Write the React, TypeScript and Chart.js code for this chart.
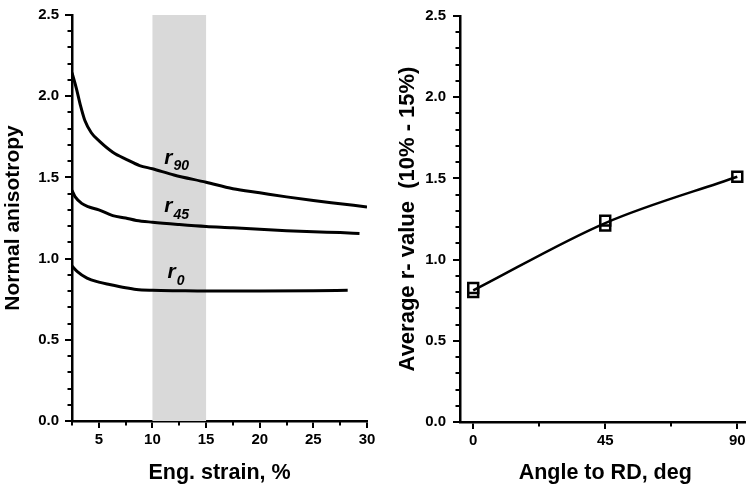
import React, { useEffect, useRef } from "react";
import { Chart, registerables } from "chart.js";

Chart.register(...registerables);

const FONT = '"Liberation Sans", Arial, Helvetica, sans-serif';

// ---- Left panel data: normal anisotropy vs engineering strain ----
const r90Strain = [2.5, 2.9, 3.3, 3.7, 4.3, 5.1, 6.3, 7.6, 8.8, 10, 12, 15, 17.5, 20, 22.5, 25, 27.5, 30];
const r90Values = [2.145, 2.05, 1.94, 1.85, 1.775, 1.72, 1.655, 1.61, 1.573, 1.553, 1.515, 1.47, 1.43, 1.405, 1.38, 1.358, 1.338, 1.318];

const r45Strain = [2.5, 2.8, 3.4, 4, 5, 6.3, 7.5, 8.5, 10, 12.5, 15, 17.5, 20, 22.5, 25, 27.5, 29.3];
const r45Values = [1.42, 1.38, 1.34, 1.32, 1.3, 1.265, 1.25, 1.235, 1.224, 1.21, 1.198, 1.19, 1.18, 1.172, 1.165, 1.16, 1.155];

const r0Strain = [2.5, 3, 3.9, 5, 6, 7.5, 8.5, 10, 12.5, 15, 20, 25, 28.2];
const r0Values = [0.955, 0.92, 0.88, 0.855, 0.84, 0.82, 0.81, 0.805, 0.802, 0.8, 0.8, 0.802, 0.805];

const bandStart = 10;
const bandEnd = 15;

const curveLabelMain = ["r", "r", "r"];
const curveLabelSub = ["90", "45", "0"];
const curveLabelStrain = [11.1, 11.1, 11.4];
const curveLabelValue = [1.585, 1.286, 0.878];

// ---- Right panel data: average r-value vs angle ----
const angles = [0, 45, 90];
const averageR = [0.81, 1.225, 1.51];
const measuredAngles = [0, 0, 45, 45, 90];
const measuredR = [0.8, 0.825, 1.21, 1.24, 1.51];

const yMinorTicks: number[] = [];
for (let i = 1; i < 25; i++) if (i % 5 !== 0) yMinorTicks.push(i / 10);
const leftXMinorTicks = [2.5, 7.5, 12.5, 17.5, 22.5, 27.5];
const rightXMinorTicks = [22.5, 67.5];

function toXY(xs: number[], ys: number[]) {
  return xs.map((x, i) => ({ x, y: ys[i] }));
}

function minorTicksPlugin(xMinor: number[], yMinor: number[]) {
  return {
    id: "minorTicks",
    afterDraw(chart: any) {
      const { ctx, chartArea } = chart;
      const xs = chart.scales.x;
      const ys = chart.scales.y;
      ctx.save();
      ctx.strokeStyle = "#000";
      ctx.lineWidth = 2;
      for (const v of yMinor) {
        const py = Math.round(ys.getPixelForValue(v));
        ctx.beginPath();
        ctx.moveTo(chartArea.left - 4.5, py);
        ctx.lineTo(chartArea.left, py);
        ctx.stroke();
      }
      for (const v of xMinor) {
        const px = Math.round(xs.getPixelForValue(v));
        if (px < chartArea.left || px > chartArea.right) continue;
        ctx.beginPath();
        ctx.moveTo(px, chartArea.bottom);
        ctx.lineTo(px, chartArea.bottom + 4.5);
        ctx.stroke();
      }
      ctx.restore();
    },
  };
}

const bandPlugin = {
  id: "band",
  beforeDatasetsDraw(chart: any) {
    const { ctx, chartArea } = chart;
    const xs = chart.scales.x;
    const x0 = xs.getPixelForValue(bandStart);
    const x1 = xs.getPixelForValue(bandEnd);
    ctx.save();
    ctx.fillStyle = "#d9d9d9";
    ctx.fillRect(x0, chartArea.top, x1 - x0, chartArea.bottom - chartArea.top);
    ctx.restore();
  },
};

const curveLabelPlugin = {
  id: "curveLabels",
  afterDatasetsDraw(chart: any) {
    const { ctx } = chart;
    const xs = chart.scales.x;
    const ys = chart.scales.y;
    ctx.save();
    ctx.fillStyle = "#000";
    ctx.textBaseline = "alphabetic";
    ctx.textAlign = "left";
    for (let i = 0; i < curveLabelMain.length; i++) {
      const px = xs.getPixelForValue(curveLabelStrain[i]);
      const py = ys.getPixelForValue(curveLabelValue[i]);
      ctx.font = `italic bold 21px ${FONT}`;
      ctx.fillText(curveLabelMain[i], px, py);
      const w = ctx.measureText(curveLabelMain[i]).width;
      ctx.font = `italic bold 14px ${FONT}`;
      ctx.fillText(curveLabelSub[i], px + w + 1, py + 6.5);
    }
    ctx.restore();
  },
};

function axisCommon() {
  return {
    grid: {
      display: true,
      drawOnChartArea: false,
      drawTicks: true,
      tickLength: 7,
      color: "#000",
      lineWidth: 2,
    },
    border: { display: true, color: "#000", width: 2.5 },
  };
}

const tickFont = { family: FONT, size: 15, weight: "bold" };

function LeftChart() {
  const ref = useRef<HTMLCanvasElement>(null);
  useEffect(() => {
    if (!ref.current) return;
    const lineStyle = {
      borderColor: "#000",
      borderWidth: 3,
      pointRadius: 0,
      fill: false,
      showLine: true,
      cubicInterpolationMode: "monotone" as const,
    };
    const chart = new Chart(ref.current, {
      type: "scatter",
      data: {
        datasets: [
          { ...lineStyle, data: toXY(r90Strain, r90Values) },
          { ...lineStyle, data: toXY(r45Strain, r45Values) },
          { ...lineStyle, data: toXY(r0Strain, r0Values) },
        ],
      },
      options: {
        animation: false,
        responsive: false,
        maintainAspectRatio: false,
        layout: { padding: { top: 14, right: 13, left: 0, bottom: 0 } },
        plugins: { legend: { display: false }, tooltip: { enabled: false } },
        scales: {
          x: {
            type: "linear",
            min: 2.5,
            max: 30,
            ...axisCommon(),
            ticks: {
              stepSize: 5,
              includeBounds: false,
              color: "#000",
              padding: 3,
              maxRotation: 0,
              font: tickFont,
            },
            title: {
              display: true,
              text: "Eng. strain, %",
              color: "#000",
              font: { family: FONT, size: 21.5, weight: "bold" },
              padding: { top: 0, bottom: 1 },
            },
            afterFit: (s: any) => {
              s.height = 66;
            },
          },
          y: {
            type: "linear",
            min: 0,
            max: 2.5,
            ...axisCommon(),
            ticks: {
              stepSize: 0.5,
              color: "#000",
              padding: 6,
              font: tickFont,
              callback: (v: any) => Number(v).toFixed(1),
            },
            title: {
              display: true,
              text: "Normal anisotropy",
              color: "#000",
              font: { family: FONT, size: 21, weight: "bold" },
              padding: { top: 1, bottom: 0 },
            },
            afterFit: (s: any) => {
              s.width = 72;
            },
          },
        },
      } as any,
      plugins: [bandPlugin, curveLabelPlugin, minorTicksPlugin(leftXMinorTicks, yMinorTicks)],
    });
    return () => chart.destroy();
  }, []);
  return (
    <canvas
      ref={ref}
      width={380}
      height={487}
      style={{ position: "absolute", left: 0, top: 0, width: 380, height: 487 }}
    />
  );
}

function RightChart() {
  const ref = useRef<HTMLCanvasElement>(null);
  useEffect(() => {
    if (!ref.current) return;
    const chart = new Chart(ref.current, {
      type: "scatter",
      data: {
        datasets: [
          {
            data: toXY(angles, averageR),
            showLine: true,
            borderColor: "#000",
            borderWidth: 2.5,
            pointRadius: 0,
            cubicInterpolationMode: "monotone",
          },
          {
            data: toXY(measuredAngles, measuredR),
            showLine: false,
            pointStyle: "rect",
            pointRadius: 7,
            pointBorderWidth: 2.5,
            pointBorderColor: "#000",
            pointBackgroundColor: "#fff",
          },
        ],
      },
      options: {
        animation: false,
        responsive: false,
        maintainAspectRatio: false,
        layout: { padding: { top: 16, right: 9, left: 0, bottom: 0 } },
        plugins: { legend: { display: false }, tooltip: { enabled: false } },
        scales: {
          x: {
            type: "linear",
            min: -4.5,
            max: 94.5,
            ...axisCommon(),
            ticks: {
              stepSize: 45,
              includeBounds: false,
              color: "#000",
              padding: 3,
              maxRotation: 0,
              font: tickFont,
            },
            title: {
              display: true,
              text: "Angle to RD, deg",
              color: "#000",
              font: { family: FONT, size: 21.5, weight: "bold" },
              padding: { top: 0, bottom: 1 },
            },
            afterFit: (s: any) => {
              s.height = 65;
            },
          },
          y: {
            type: "linear",
            min: 0,
            max: 2.5,
            ...axisCommon(),
            ticks: {
              stepSize: 0.5,
              color: "#000",
              padding: 7,
              font: tickFont,
              callback: (v: any) => Number(v).toFixed(1),
            },
            title: {
              display: true,
              text: "Average r- value  (10% - 15%)",
              color: "#000",
              font: { family: FONT, size: 22, weight: "bold" },
              padding: { top: 15, bottom: 0 },
            },
            afterFit: (s: any) => {
              s.width = 80;
            },
          },
        },
      } as any,
      plugins: [minorTicksPlugin(rightXMinorTicks, yMinorTicks)],
    });
    return () => chart.destroy();
  }, []);
  return (
    <canvas
      ref={ref}
      width={380}
      height={487}
      style={{ position: "absolute", left: 380, top: 0, width: 380, height: 487 }}
    />
  );
}

export default function App() {
  return (
    <div
      style={{
        position: "absolute",
        left: 0,
        top: 0,
        width: 746,
        height: 487,
        overflow: "hidden",
        background: "#fff",
      }}
    >
      <LeftChart />
      <RightChart />
    </div>
  );
}
